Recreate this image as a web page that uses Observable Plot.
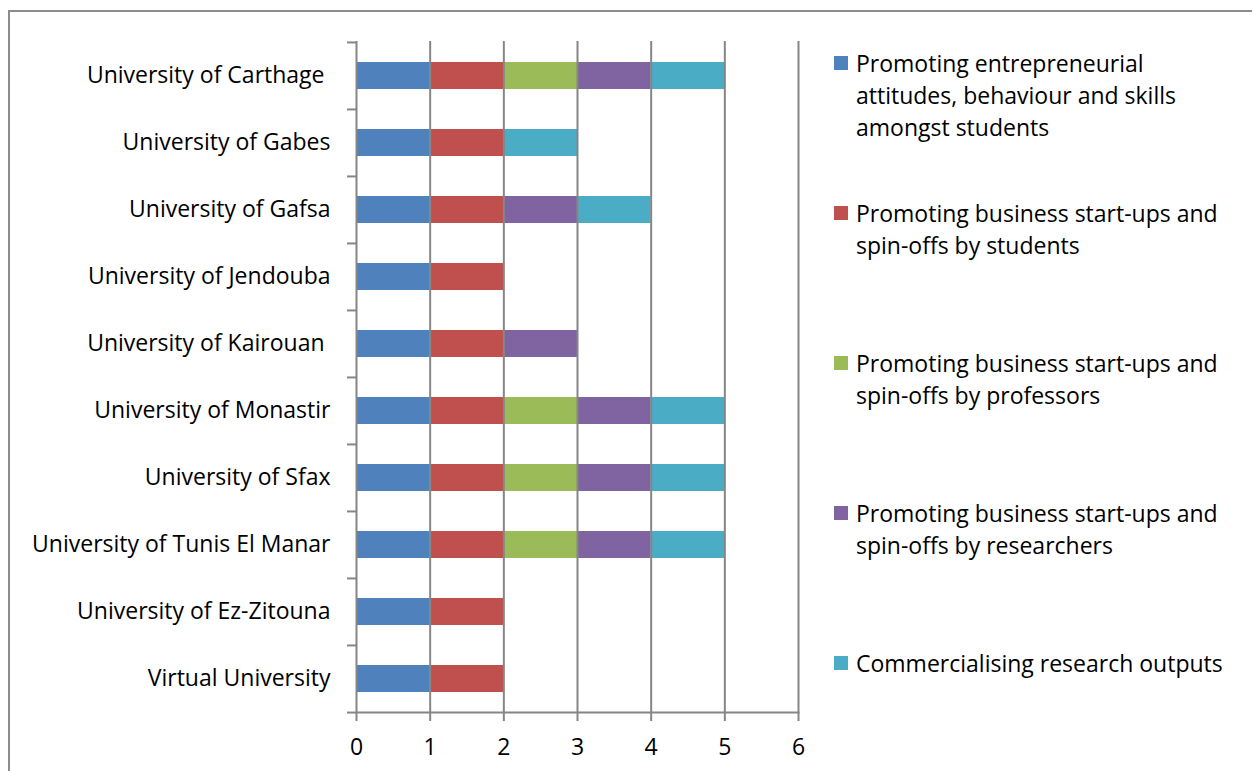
<!DOCTYPE html>
<html>
<head>
<meta charset="utf-8">
<script src="https://cdn.jsdelivr.net/npm/d3@7"></script>
<script src="https://cdn.jsdelivr.net/npm/@observablehq/plot@0.6"></script>
<style>
  html, body { margin: 0; padding: 0; background: #fff; }
  #wrap { position: relative; width: 1252px; height: 771px; overflow: hidden; font-family: "Open Sans", sans-serif; }
  #border { position: absolute; left: 8px; top: 10px; width: 1300px; height: 800px; border: 2px solid #8c8c8c; box-sizing: border-box; }
  #chart { position: absolute; left: 0; top: 0; }
  .leg { position: absolute; left: 834px; font-size: 23px; line-height: 32px; color: #000; white-space: pre; }
  .leg .sw { position: absolute; left: 0; top: 9px; width: 14px; height: 14px; }
  .leg .tx { position: absolute; left: 22px; top: 0; }
</style>
</head>
<body>
<div id="wrap"><div id="border"></div><div id="chart"></div></div>
<script>
const universities = [
  "University of Carthage\u00a0",
  "University of Gabes",
  "University of Gafsa",
  "University of Jendouba",
  "University of Kairouan\u00a0",
  "University of Monastir",
  "University of Sfax",
  "University of Tunis El Manar",
  "University of Ez-Zitouna",
  "Virtual University"
];
const series = [
  "Promoting entrepreneurial attitudes, behaviour and skills amongst students",
  "Promoting business start-ups and spin-offs by students",
  "Promoting business start-ups and spin-offs by professors",
  "Promoting business start-ups and spin-offs by researchers",
  "Commercialising research outputs"
];
const legendLabels = [
  "Promoting entrepreneurial\nattitudes, behaviour and skills\namongst students",
  "Promoting business start-ups and\nspin-offs by students",
  "Promoting business start-ups and\nspin-offs by professors",
  "Promoting business start-ups and\nspin-offs by researchers",
  "Commercialising research outputs"
];
const colors = ["#4F81BD", "#C0504D", "#9BBB59", "#8064A2", "#4BACC6"];
// values per series, in university order
const sEntrepreneurial = [1, 1, 1, 1, 1, 1, 1, 1, 1, 1];
const sStudents        = [1, 1, 1, 1, 1, 1, 1, 1, 1, 1];
const sProfessors      = [1, 0, 0, 0, 0, 1, 1, 1, 0, 0];
const sResearchers     = [1, 0, 1, 0, 1, 1, 1, 1, 0, 0];
const sCommercial      = [1, 1, 1, 0, 0, 1, 1, 1, 0, 0];
const xTicks = [0, 1, 2, 3, 4, 5, 6];

const seriesValues = [sEntrepreneurial, sStudents, sProfessors, sResearchers, sCommercial];
const rows = [];
universities.forEach((u, i) => {
  series.forEach((s, j) => {
    if (seriesValues[j][i] > 0) rows.push({uni: u, series: s, value: seriesValues[j][i]});
  });
});

const W = 1252, H = 771;
const mTop = 41, mBottom = 59, mLeft = 356, mRight = 454;
const step = (H - mTop - mBottom) / universities.length;
const grid = "#868686";

const chart = Plot.plot({
  width: W, height: H,
  marginTop: mTop, marginBottom: mBottom, marginLeft: mLeft, marginRight: mRight,
  style: {fontFamily: "'Open Sans', sans-serif", fontSize: "23px", color: "#000", background: "transparent", overflow: "visible"},
  x: {domain: [0, 6], ticks: xTicks, tickFormat: d => String(d)},
  y: {domain: universities, paddingInner: 0.6, paddingOuter: 0.3},
  color: {domain: series, range: colors},
  marks: [
    Plot.barX(rows, Plot.stackX({y: "uni", x: "value", fill: "series", order: series})),
    Plot.ruleX(xTicks, {stroke: grid, strokeWidth: 2}),
    Plot.frame({anchor: "bottom", stroke: grid, strokeWidth: 2}),
    // y-axis ticks at category boundaries
    Plot.ruleY(universities, {y: d => d, x1: 0, x2: 0, insetLeft: -9, dy: -step / 2, stroke: grid, strokeWidth: 2}),
    Plot.ruleY(universities.slice(-1), {y: d => d, x1: 0, x2: 0, insetLeft: -9, dy: step / 2, stroke: grid, strokeWidth: 2}),
    Plot.axisX({ticks: xTicks, tickFormat: d => String(d), tickSize: 9, tickPadding: 17, stroke: grid, strokeWidth: 2, fill: "#000", fontSize: 23, label: null}),
    Plot.axisY({tickSize: 0, tickPadding: 26, fill: "#000", fontSize: 23, label: null})
  ]
});
document.getElementById("chart").appendChild(chart);

const wrap = document.getElementById("wrap");
legendLabels.forEach((lab, i) => {
  const d = document.createElement("div");
  d.className = "leg";
  d.style.top = (47 + i * 150) + "px";
  const sw = document.createElement("div");
  sw.className = "sw";
  sw.style.background = colors[i];
  const tx = document.createElement("div");
  tx.className = "tx";
  tx.textContent = lab;
  d.appendChild(sw); d.appendChild(tx);
  wrap.appendChild(d);
});
</script>
</body>
</html>
